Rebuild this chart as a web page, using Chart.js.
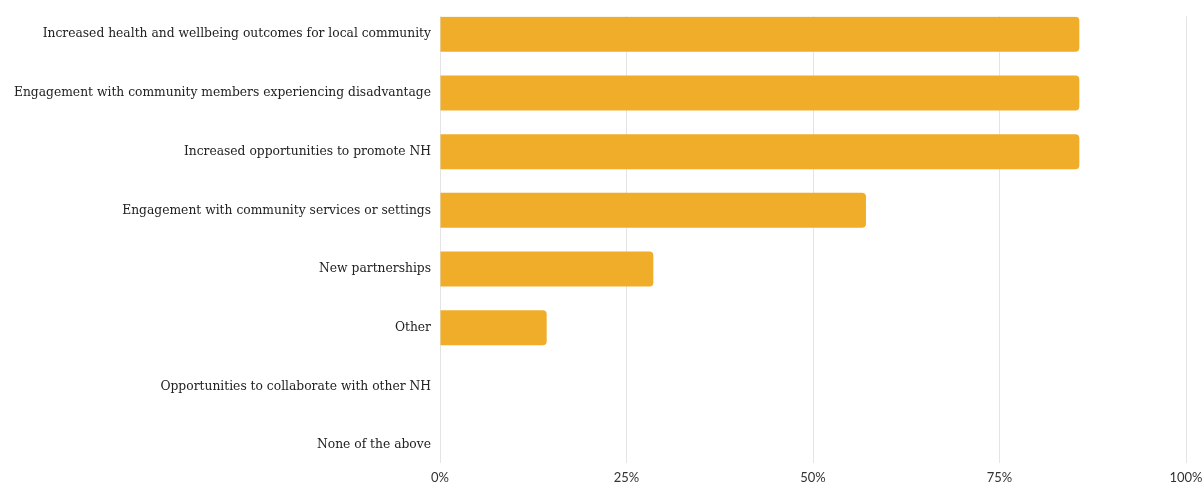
<!DOCTYPE html>
<html>
<head>
<meta charset="utf-8">
<script src="https://cdn.jsdelivr.net/npm/chart.js@4/dist/chart.umd.min.js"></script>
<style>
  html, body { margin: 0; padding: 0; background: #fff; }
  #wrap { width: 1204px; height: 485px; }
</style>
</head>
<body>
<div id="wrap"><canvas id="benefitsChart"></canvas></div>
<script>
const categories = [
  'Increased health and wellbeing outcomes for local community',
  'Engagement with community members experiencing disadvantage',
  'Increased opportunities to promote NH',
  'Engagement with community services or settings',
  'New partnerships',
  'Other',
  'Opportunities to collaborate with other NH',
  'None of the above'
];
const shares = [85.7, 85.7, 85.7, 57.1, 28.6, 14.3, 0, 0];
const xTicks = [0, 25, 50, 75, 100];

// y runs on a linear scale so the rows can sit a little past the grid ends
const points = shares.map((v, i) => ({ x: v, y: i }));

new Chart(document.getElementById('benefitsChart'), {
  type: 'bar',
  data: {
    datasets: [{
      label: 'Share',
      data: points,
      backgroundColor: '#efad29',
      borderRadius: ctx => (ctx.raw && ctx.raw.x ? 4 : 0),
      borderSkipped: 'start',
      inflateAmount: 0,
      barThickness: 35
    }]
  },
  options: {
    indexAxis: 'y',
    responsive: true,
    maintainAspectRatio: false,
    animation: false,
    layout: { padding: { top: 13, right: 0, left: 0, bottom: 0 } },
    plugins: { legend: { display: false }, tooltip: { enabled: false } },
    scales: {
      x: {
        type: 'linear',
        min: 0,
        max: 100,
        afterBuildTicks: scale => { scale.ticks = xTicks.map(v => ({ value: v })); },
        afterFit: scale => {
          scale.height = 22;
          scale.paddingLeft = 0;
          scale.paddingRight = 18;
        },
        grid: { color: '#e4e4e4', drawTicks: false },
        border: { display: false },
        ticks: {
          padding: 7,
          color: '#333',
          font: { family: 'Lato', size: 13 },
          callback: v => v + '%'
        }
      },
      y: {
        type: 'linear',
        reverse: true,
        offset: false,
        min: -0.305,
        max: 7.305,
        afterBuildTicks: scale => { scale.ticks = categories.map((c, i) => ({ value: i })); },
        afterFit: scale => { scale.width = 440; },
        grid: { display: false, drawTicks: false },
        border: { display: false },
        ticks: {
          padding: 9,
          color: '#222',
          font: { family: 'DejaVu Serif', size: 12.3 },
          callback: v => categories[v]
        }
      }
    }
  }
});
</script>
</body>
</html>
